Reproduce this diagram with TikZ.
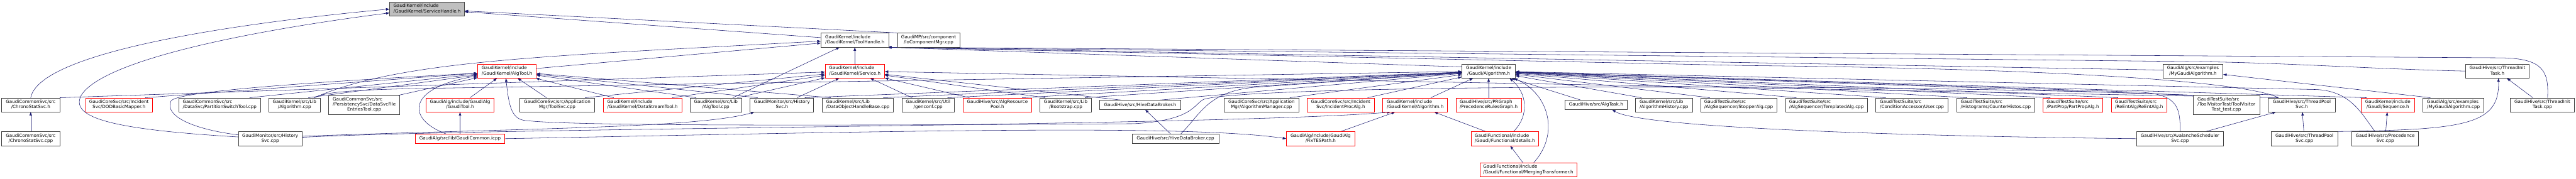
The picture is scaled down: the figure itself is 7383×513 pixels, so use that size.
\documentclass[tikz,border=0pt]{standalone}
\usepackage{fontspec}
\setmainfont{DejaVu Sans}
\usepackage{tikz}
\usetikzlibrary{arrows.meta}
\definecolor{edgeblue}{HTML}{191970}
\pgfdeclarelayer{edges}
\pgfsetlayers{edges,main}
% label with left aligned head lines and a centred last line
\newcommand{\flab}[2]{\begin{tabular}{@{}l@{}}#1\\\multicolumn{1}{@{}c@{}}{#2}\end{tabular}}
\newcommand{\flabc}[3]{\begin{tabular}{@{}l@{}}#1\\#2\\\multicolumn{1}{@{}c@{}}{#3}\end{tabular}}

\begin{document}
\begin{tikzpicture}[x=1pt, y=-1pt,
    file/.style={draw=black!75, line width=1.3pt, fill=white, inner sep=0pt,
        minimum height=40pt, font=\fontsize{12.9}{15}\selectfont},
    redfile/.style={file, draw=red},
    rootfile/.style={file, fill=black!25},
    inc/.style={draw=edgeblue, line width=1pt, -{Triangle[length=10pt,width=7pt]}}]
    \useasboundingbox (0,0) rectangle (7383,513);

    % Root and upper rows
    \node[rootfile, minimum width=214pt] (sh) at (1224,26) {\flab{GaudiKernel/include}{/GaudiKernel/ServiceHandle.h}};
    \node[file, minimum width=194pt] (th) at (2450,115) {\flab{GaudiKernel/include}{/GaudiKernel/ToolHandle.h}};
    \node[file, minimum width=179pt] (iocm) at (2661.5,115) {\flab{GaudiMP/src/component}{/IoComponentMgr.cpp}};
    \node[redfile, minimum width=168pt] (atl) at (1453,204) {\flab{GaudiKernel/include}{/GaudiKernel/AlgTool.h}};
    \node[redfile, minimum width=170pt] (sv) at (2450,204) {\flab{GaudiKernel/include}{/GaudiKernel/Service.h}};
    \node[file, minimum width=153pt] (galg) at (4266.5,204) {\flab{GaudiKernel/include}{/Gaudi/Algorithm.h}};
    \node[file, minimum width=172pt] (mygah) at (6285,204) {\flab{GaudiAlg/src/examples}{/MyGaudiAlgorithm.h}};
    \node[file, minimum width=183pt] (tith) at (7157.5,204) {\flab{GaudiHive/src/ThreadInit}{Task.h}};

    % Middle row
    \node[file, minimum width=166pt] (chrh) at (88,301) {\flab{GaudiCommonSvc/src}{/ChronoStatSvc.h}};
    \node[redfile, minimum width=192pt] (dod) at (341,301) {\flab{GaudiCoreSvc/src/Incident}{Svc/DODBasicMapper.h}};
    \node[file, minimum width=235pt] (pst) at (629.5,301) {\flab{GaudiCommonSvc/src}{/DataSvc/PartitionSwitchTool.cpp}};
    \node[file, minimum width=148pt] (algcpp) at (844,301) {\flab{GaudiKernel/src/Lib}{/Algorithm.cpp}};
    \node[file, minimum width=204pt, minimum height=54pt] (dsfe) at (1044,301) {\flabc{GaudiCommonSvc/src}{/PersistencySvc/DataSvcFile}{EntriesTool.cpp}};
    \node[redfile, minimum width=195pt] (gtool) at (1318.5,301) {\flab{GaudiAlg/include/GaudiAlg}{/GaudiTool.h}};
    \node[file, minimum width=214pt] (tsvc) at (1597,301) {\flab{GaudiCoreSvc/src/Application}{Mgr/ToolSvc.cpp}};
    \node[redfile, minimum width=225pt] (dst) at (1841.5,301) {\flab{GaudiKernel/include}{/GaudiKernel/DataStreamTool.h}};
    \node[file, minimum width=147pt] (atcpp) at (2051.5,301) {\flab{GaudiKernel/src/Lib}{/AlgTool.cpp}};
    \node[file, minimum width=182pt] (hish) at (2241,301) {\flab{GaudiMonitor/src/History}{Svc.h}};
    \node[file, minimum width=205pt] (dohb) at (2458.5,301) {\flab{GaudiKernel/src/Lib}{/DataObjectHandleBase.cpp}};
    \node[file, minimum width=150pt] (genc) at (2660,301) {\flab{GaudiKernel/src/Util}{/genconf.cpp}};
    \node[redfile, minimum width=197pt] (arp) at (2858.5,301) {\flab{GaudiHive/src/AlgResource}{Pool.h}};
    \node[file, minimum width=147pt] (boot) at (3054.5,301) {\flab{GaudiKernel/src/Lib}{/Bootstrap.cpp}};
    \node[file, minimum width=232pt, minimum height=26pt] (hdbh) at (3268,301) {GaudiHive/src/HiveDataBroker.h};
    \node[file, minimum width=213pt] (algm) at (3615.5,301) {\flab{GaudiCoreSvc/src/Application}{Mgr/AlgorithmManager.cpp}};
    \node[redfile, minimum width=193pt] (ipa) at (3842.5,301) {\flab{GaudiCoreSvc/src/Incident}{Svc/IncidentProcAlg.h}};
    \node[redfile, minimum width=186pt] (kalg) at (4056,301) {\flab{GaudiKernel/include}{/GaudiKernel/Algorithm.h}};
    \node[redfile, minimum width=187pt] (prg) at (4266.5,301) {\flab{GaudiHive/src/PRGraph}{/PrecedenceRulesGraph.h}};
    \node[file, minimum width=179pt, minimum height=26pt] (atask) at (4574.5,301) {GaudiHive/src/AlgTask.h};
    \node[file, minimum width=164pt] (ahist) at (4769,301) {\flab{GaudiKernel/src/Lib}{/AlgorithmHistory.cpp}};
    \node[file, minimum width=218pt] (stop) at (4983,301) {\flab{GaudiTestSuite/src}{/AlgSequencer/StopperAlg.cpp}};
    \node[file, minimum width=235pt] (templ) at (5234.5,301) {\flab{GaudiTestSuite/src}{/AlgSequencer/TemplatedAlg.cpp}};
    \node[file, minimum width=207pt] (user) at (5479.5,301) {\flab{GaudiTestSuite/src}{/ConditionAccessor/User.cpp}};
    \node[file, minimum width=224pt] (chist) at (5720,301) {\flab{GaudiTestSuite/src}{/Histograms/CounterHistos.cpp}};
    \node[redfile, minimum width=172pt] (ppa) at (5941,301) {\flab{GaudiTestSuite/src}{/PartProp/PartPropAlg.h}};
    \node[redfile, minimum width=159pt] (reent) at (6130.5,301) {\flab{GaudiTestSuite/src}{/ReEntAlg/ReEntAlg.h}};
    \node[file, minimum width=192pt, minimum height=54pt] (tvt) at (6381,301) {\flabc{GaudiTestSuite/src}{/ToolVisitorTest/ToolVisitor}{Test\_test.cpp}};
    \node[file, minimum width=192pt] (tpsh) at (6597,301) {\flab{GaudiHive/src/ThreadPool}{Svc.h}};
    \node[redfile, minimum width=153pt] (seq) at (6843.5,301) {\flab{GaudiKernel/include}{/Gaudi/Sequence.h}};
    \node[file, minimum width=175pt] (mygacpp) at (7031.5,301) {\flab{GaudiAlg/src/examples}{/MyGaudiAlgorithm.cpp}};
    \node[file, minimum width=183pt] (ticpp) at (7286.5,301) {\flab{GaudiHive/src/ThreadInit}{Task.cpp}};

    % Lower rows
    \node[file, minimum width=166pt] (chrcpp) at (88,398) {\flab{GaudiCommonSvc/src}{/ChronoStatSvc.cpp}};
    \node[file, minimum width=183pt] (hiscpp) at (774.5,398) {\flab{GaudiMonitor/src/History}{Svc.cpp}};
    \node[redfile, minimum width=257pt, minimum height=26pt] (gci) at (1318.5,398) {GaudiAlg/src/lib/GaudiCommon.icpp};
    \node[file, minimum width=248pt, minimum height=26pt] (hdbcpp) at (3369,398) {GaudiHive/src/HiveDataBroker.cpp};
    \node[redfile, minimum width=196pt] (fixtes) at (3785,398) {\flab{GaudiAlg/include/GaudiAlg}{/FixTESPath.h}};
    \node[redfile, minimum width=194pt] (det) at (4313,398) {\flab{GaudiFunctional/include}{/Gaudi/Functional/details.h}};
    \node[file, minimum width=248pt] (avsch) at (6248,398) {\flab{GaudiHive/src/AvalancheScheduler}{Svc.cpp}};
    \node[file, minimum width=191pt] (tpscpp) at (6604.5,398) {\flab{GaudiHive/src/ThreadPool}{Svc.cpp}};
    \node[file, minimum width=192pt] (precsvc) at (6836,398) {\flab{GaudiHive/src/Precedence}{Svc.cpp}};
    \node[redfile, minimum width=278pt] (mtr) at (4380,487) {\flab{GaudiFunctional/include}{/Gaudi/Functional/MergingTransformer.h}};

    \begin{pgfonlayer}{edges}
    \fill[white] (0,0) rectangle (7383,513);

    % into ServiceHandle.h
    \draw[inc] (chrh.north) .. controls (119,119) and (954,41) .. (sh.west);
    \draw[inc] ([yshift=5pt]hiscpp.west) .. controls (330,372) and (200,340) .. (232,275) .. controls (290,175) and (700,90) .. ([yshift=-11pt]sh.west);
    \draw[inc] (th) -- (sh);
    \draw[inc] (iocm.north west) -- (sh);

    % into ToolHandle.h
    \draw[inc] (sv) -- (th);
    \draw[inc] (atl) -- (th);
    \draw[inc] ([xshift=57pt]algcpp.north) .. controls (1150,170) and (1600,160) .. ([yshift=-3pt]th.west);
    \draw[inc] ([xshift=49pt]atcpp.north) -- (th);
    \draw[inc] ([yshift=12pt]galg.west) -- ([xshift=-3pt]th.south east);
    \draw[inc] ([yshift=3pt]mygah.west) -- ([xshift=-3pt]th.south east);
    \draw[inc] (tith.west) .. controls (6800,198) and (6550,180) .. (6300,177) -- ([xshift=-3pt]th.south east);
    \draw[inc] ([xshift=15pt]ticpp.north) .. controls (7305,205) and (7290,168) .. (7170,166) -- ([xshift=-3pt]th.south east);
    \draw[inc] ([xshift=-67pt]tpsh.north) .. controls (6450,240) and (6000,198) .. (5000,188) -- ([xshift=-3pt]th.south east);

    % into AlgTool.h
    \draw[inc] ([xshift=75pt]dod.north) -- (atl);
    \draw[inc] ([yshift=11pt]hiscpp.west) .. controls (560,372) and (470,335) .. (490,290) .. controls (505,262) and (900,235) .. ([yshift=-6pt]atl.west);
    \draw[inc] ([xshift=86pt]pst.north) -- (atl);
    \draw[inc] ([xshift=40pt]algcpp.north) -- (atl);
    \draw[inc] ([xshift=-4pt]dsfe.north east) -- (atl);
    \draw[inc] ([xshift=-40pt]gci.north) .. controls (1160,340) and (1170,250) .. ([yshift=-14pt]atl.west);
    \draw[inc] (gtool) -- (atl);
    \draw[inc] (tsvc) -- (atl);
    \draw[inc] (dst) -- (atl);
    \draw[inc] ([xshift=18pt]atcpp.north west) -- (atl);
    \draw[inc] ([xshift=22pt]hish.north west) -- (atl);
    \draw[inc] ([xshift=26pt]dohb.north west) -- (atl);
    \draw[inc] (tvt.north west) .. controls (5500,240) and (3600,240) .. (3450,285) .. controls (3420,300) and (3420,345) .. (3250,355)
        .. controls (2200,362) and (1600,360) .. (1500,345) .. controls (1465,338) and (1458,300) .. ([xshift=-3pt]atl.south);

    % into Service.h
    \draw[inc] (chrh.north east) -- (sv);
    \draw[inc] ([xshift=80pt]tsvc.north) -- (sv);
    \draw[inc] ([xshift=85pt]dst.north) -- (sv);
    \draw[inc] ([xshift=62pt]atcpp.north) -- (sv);
    \draw[inc] ([xshift=43pt]hish.north) -- (sv);
    \draw[inc] ([xshift=-46pt]genc.north) -- (sv);
    \draw[inc] ([xshift=19pt]arp.north west) -- (sv);
    \draw[inc] ([xshift=15pt]boot.north west) -- (sv);
    \draw[inc] ([xshift=64pt]hdbh.north west) -- (sv);
    \draw[inc] ([xshift=-67pt]tpsh.north) -- (sv);

    % into Gaudi/Algorithm.h
    \draw[inc] ([xshift=57pt]algcpp.north) .. controls (930,265) and (1000,258) .. (1200,254) -- (galg);
    \draw[inc] ([xshift=-26pt]hish.north east) -- (galg);
    \draw[inc] ([xshift=-30pt]dohb.north east) -- (galg);
    \draw[inc] ([xshift=-20pt]genc.north east) -- (galg);
    \draw[inc] ([xshift=-28pt]arp.north east) -- (galg);
    \draw[inc] ([xshift=-19pt]boot.north east) -- (galg);
    \draw[inc] ([xshift=-62pt]hdbh.north east) -- (galg);
    \draw[inc] ([xshift=15pt]hdbcpp.north) .. controls (3440,330) and (3460,262) .. (3600,250) -- (galg);
    \draw[inc] ([xshift=-26pt]algm.north east) -- (galg);
    \draw[inc] ([xshift=-20pt]ipa.north east) -- (galg);
    \draw[inc] (kalg) -- (galg);
    \draw[inc] (prg) -- (galg);
    \draw[inc] ([xshift=25pt]det.north) .. controls (4385,330) and (4375,265) .. ([xshift=60pt]galg.south);
    \draw[inc] ([xshift=16pt]mtr.north) .. controls (4470,385) and (4440,270) .. ([xshift=73pt]galg.south);
    \draw[inc] (atask) -- (galg);
    \draw[inc] ([xshift=18pt]ahist.north west) -- (galg);
    \draw[inc] ([xshift=27pt]stop.north west) -- (galg);
    \draw[inc] ([xshift=32pt]templ.north west) -- (galg);
    \draw[inc] ([xshift=29pt]user.north west) -- (galg);
    \draw[inc] ([xshift=30pt]chist.north west) -- (galg);
    \draw[inc] ([xshift=22pt]ppa.north west) -- (galg);
    \draw[inc] ([xshift=20pt]reent.north west) -- (galg);
    \draw[inc] ([xshift=4pt]tvt.north west) -- (galg);
    \draw[inc] ([xshift=16pt]seq.north west) -- (galg);
    \draw[inc] (avsch.north) .. controls (6250,300) and (6235,268) .. (6120,264) -- (galg);
    \draw[inc] ([xshift=-29pt]precsvc.north) .. controls (6770,330) and (6740,262) .. (6640,257) -- (galg);

    % remaining includes
    \draw[inc] (chrcpp) -- (chrh);
    \draw[inc] ([yshift=7pt]hiscpp.east) .. controls (1500,368) and (2000,368) .. ([xshift=-79pt]hish.south);
    \draw[inc] ([yshift=4pt]hiscpp.east) .. controls (1400,366) and (3500,362) .. ([xshift=-70pt]kalg.south);
    \draw[inc] (gci) -- (gtool);
    \draw[inc] (gci.east) .. controls (2500,378) and (3400,355) .. (fixtes.west);
    \draw[inc] (hdbcpp) -- (hdbh);
    \draw[inc] (fixtes) -- (kalg);
    \draw[inc] (det) -- (kalg);
    \draw[inc] (mtr) -- (det);
    \draw[inc] (avsch.west) .. controls (5400,390) and (4700,365) .. ([xshift=46pt]atask.south);
    \draw[inc] (avsch) -- (tpsh);
    \draw[inc] (tpscpp) -- (tpsh);
    \draw[inc] (tpscpp.north east) .. controls (7060,372) and (7165,360) .. ([xshift=3pt]tith.south);
    \draw[inc] (precsvc) -- (seq);
    \draw[inc] ([xshift=-66pt]mygacpp.north) -- (mygah);
    \draw[inc] (ticpp) -- (tith);
    \end{pgfonlayer}
\end{tikzpicture}
\end{document}
